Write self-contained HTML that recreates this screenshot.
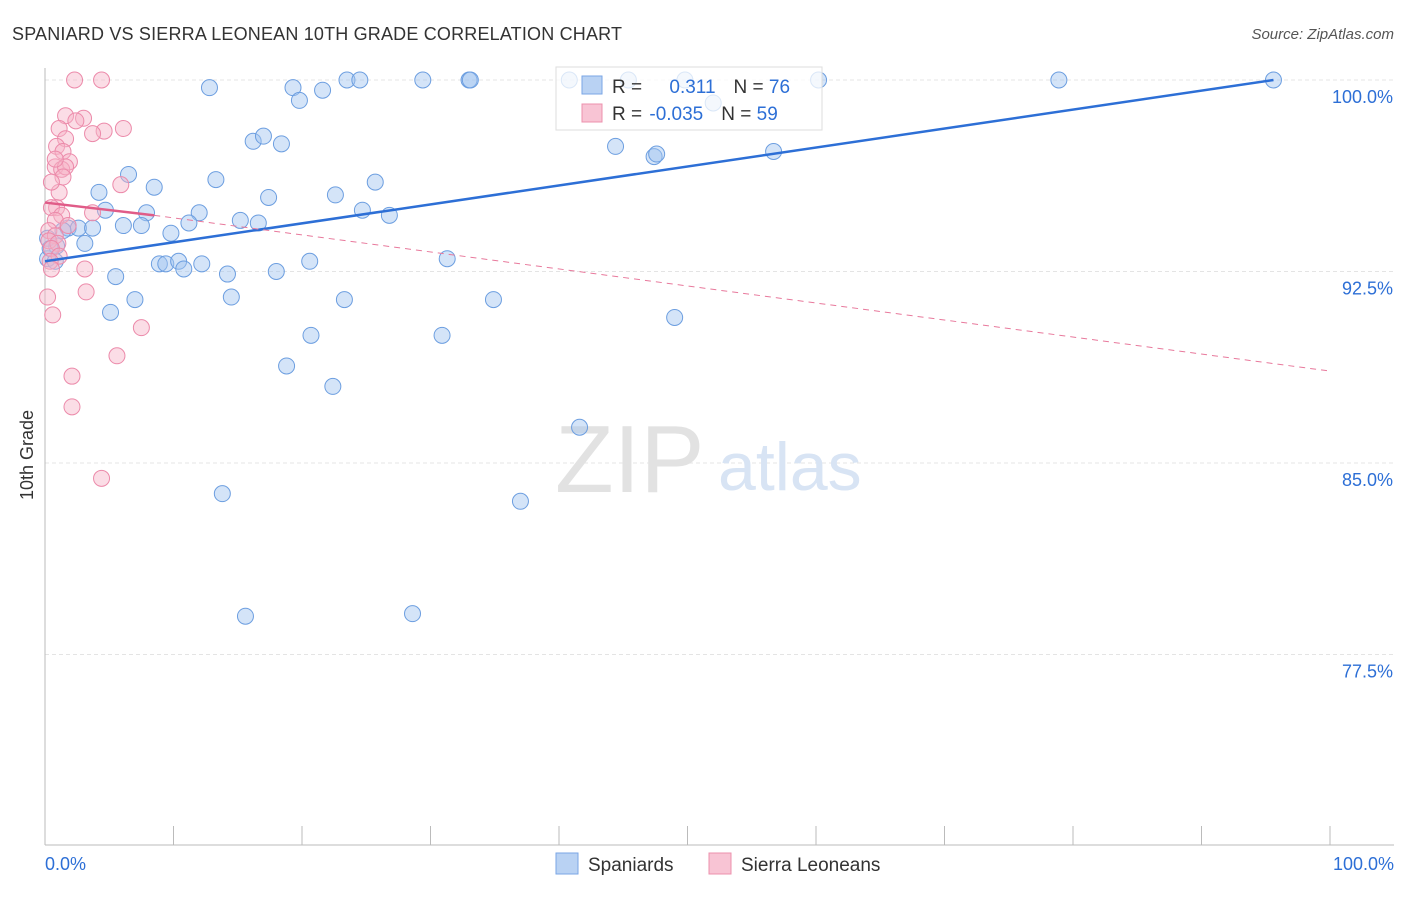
<!DOCTYPE html>
<html><head><meta charset="utf-8"><style>
body{margin:0;background:#fff;font-family:"Liberation Sans",sans-serif;}
svg text{font-family:"Liberation Sans",sans-serif;}
</style></head><body>
<svg id="c" width="1406" height="892">
<text x="12" y="40" font-size="18" fill="#333" textLength="610">SPANIARD VS SIERRA LEONEAN 10TH GRADE CORRELATION CHART</text>
<text x="1394" y="39" font-size="15" fill="#555" text-anchor="end" font-style="italic">Source: ZipAtlas.com</text>
<text transform="translate(33,455) rotate(-90)" font-size="18" fill="#333" text-anchor="middle">10th Grade</text>
<g id="grid"></g>
<g><text x="555" y="492" font-size="96" fill="#e2e2e2" font-family="Liberation Serif">ZIP</text><text x="718" y="490" font-size="68" fill="#d8e4f4">atlas</text></g>
<g id="marks"></g>
<g>
<rect x="556" y="67" width="266" height="63" fill="#fff" fill-opacity="0.75" stroke="#ddd"/>
<rect x="582" y="76" width="20" height="18" fill="#b9d2f3" stroke="#7aa6e6"/>
<rect x="582" y="104" width="20" height="18" fill="#f8c4d4" stroke="#ec90ad"/>
<text x="612" y="93" font-size="19" fill="#333">R = <tspan fill="#2d6fd6" dx="22">0.311</tspan><tspan dx="18" fill="#333">N = </tspan><tspan fill="#2d6fd6">76</tspan></text>
<text x="612" y="120" font-size="19" fill="#333">R = <tspan fill="#2d6fd6" dx="2">-0.035</tspan><tspan dx="18" fill="#333">N = </tspan><tspan fill="#2d6fd6">59</tspan></text>
</g>
<g>
<rect x="556" y="853" width="22" height="21" fill="#b9d2f3" stroke="#7aa6e6"/>
<text x="588" y="871" font-size="19" fill="#333">Spaniards</text>
<rect x="709" y="853" width="22" height="21" fill="#f8c4d4" stroke="#ec90ad"/>
<text x="741" y="871" font-size="19" fill="#333">Sierra Leoneans</text>
</g>
<text x="45" y="870" font-size="18" fill="#2d6fd6">0.0%</text>
<text x="1394" y="870" font-size="18" fill="#2d6fd6" text-anchor="end">100.0%</text>
</svg>
<script>
const yTicks=[100,92.5,85,77.5];
const yTickLabels=["100.0%","92.5%","85.0%","77.5%"];
const blueX=[12.8,19.3,19.8,21.6,23.5,24.5,29.4,33,33.1,40.8,45.4,49.8,52,60.2,78.9,95.6,16.2,17,18.4,44.4,47.4,47.6,56.7,6.5,4.2,8.5,13.3,17.4,22.6,25.7,4.7,7.9,12,24.7,26.8,15.2,16.6,11.2,6.1,7.5,1.8,2.6,3.7,9.8,3.1,0.9,0.2,0.8,8.9,9.4,10.4,10.8,12.2,14.2,18,20.6,31.3,5.5,14.5,7,23.3,34.9,5.1,49,20.7,30.9,18.8,22.4,41.6,13.8,37.0,15.6,28.6,0.2,0.4,1.4];
const blueY=[99.7,99.7,99.2,99.6,100,100,100,100,100,100,100,100,99.1,100,100,100,97.6,97.8,97.5,97.4,97,97.1,97.2,96.3,95.6,95.8,96.1,95.4,95.5,96,94.9,94.8,94.8,94.9,94.7,94.5,94.4,94.4,94.3,94.3,94.2,94.2,94.2,94,93.6,93.5,93,92.9,92.8,92.8,92.9,92.6,92.8,92.4,92.5,92.9,93,92.3,91.5,91.4,91.4,91.4,90.9,90.7,90,90,88.8,88,86.4,83.8,83.5,79,79.1,93.8,93.4,94.1];
const pinkX=[2.3,4.4,1.6,3,6.1,4.6,1.1,1.6,3.7,2.4,0.9,1.4,1.9,0.8,1.3,1.6,5.9,1.4,1.1,0.9,0.5,3.7,1.3,0.8,1.8,0.3,0.8,0.3,1,0.5,1.1,0.4,0.5,3.1,3.2,0.2,0.6,7.5,5.6,2.1,2.1,4.4,0.5,0.8];
const pinkY=[100,100,98.6,98.5,98.1,98,98.1,97.7,97.9,98.4,97.4,97.2,96.8,96.6,96.5,96.6,95.9,96.2,95.6,95,95,94.8,94.7,94.5,94.3,94.1,93.9,93.7,93.6,93.4,93.1,92.9,92.6,92.6,91.7,91.5,90.8,90.3,89.2,88.4,87.2,84.4,96,96.9];
const S="http://www.w3.org/2000/svg";
const X=v=>45+v*12.85, Y=v=>80+(100-v)*191.5/7.5;
const g=document.getElementById('grid'), m=document.getElementById('marks');
function el(t,a,p){const e=document.createElementNS(S,t);for(const k in a)e.setAttribute(k,a[k]);p.appendChild(e);return e;}
yTicks.forEach((t,i)=>{
 const l=el('line',{x1:45,x2:1394,y1:Y(t),y2:Y(t),stroke:'#e4e4e4','stroke-dasharray':'4,3'},g);
 
 
 const tx=el('text',{x:1393,y:Y(t)+23,'font-size':18,fill:'#2d6fd6','text-anchor':'end'},g);
 tx.textContent=yTickLabels[i];
 
 
});
const ax=el('line',{x1:45,x2:45,y1:68,y2:845,stroke:'#bbb'},g);


const bx=el('line',{x1:45,x2:1394,y1:845,y2:845,stroke:'#bbb'},g);


for(let i=0;i<=10;i++){const t=el('line',{x1:X(i*10),x2:X(i*10),y1:826,y2:845,stroke:'#bbb'},g);
 
 }
blueX.forEach((v,i)=>{const c=el('circle',{cx:X(v),cy:Y(blueY[i]),r:8,fill:'rgba(160,195,240,0.45)',stroke:'#6c9ee0','stroke-width':1},m);
 
 });
pinkX.forEach((v,i)=>{const c=el('circle',{cx:X(v),cy:Y(pinkY[i]),r:8,fill:'rgba(246,180,200,0.45)',stroke:'#ec8aaa','stroke-width':1},m);
 
 });
const bl=el('line',{x1:X(0),y1:Y(92.9),x2:X(95.6),y2:Y(100),stroke:'#2d6fd6','stroke-width':2.5},m);


const pd=el('line',{x1:X(8.5),y1:Y(94.7),x2:X(100),y2:Y(88.6),stroke:'#e8799c','stroke-width':1,'stroke-dasharray':'6,5'},m);


const ps=el('line',{x1:X(0),y1:Y(95.2),x2:X(8.5),y2:Y(94.7),stroke:'#e05c88','stroke-width':2.5},m);


</script>
</body></html>
